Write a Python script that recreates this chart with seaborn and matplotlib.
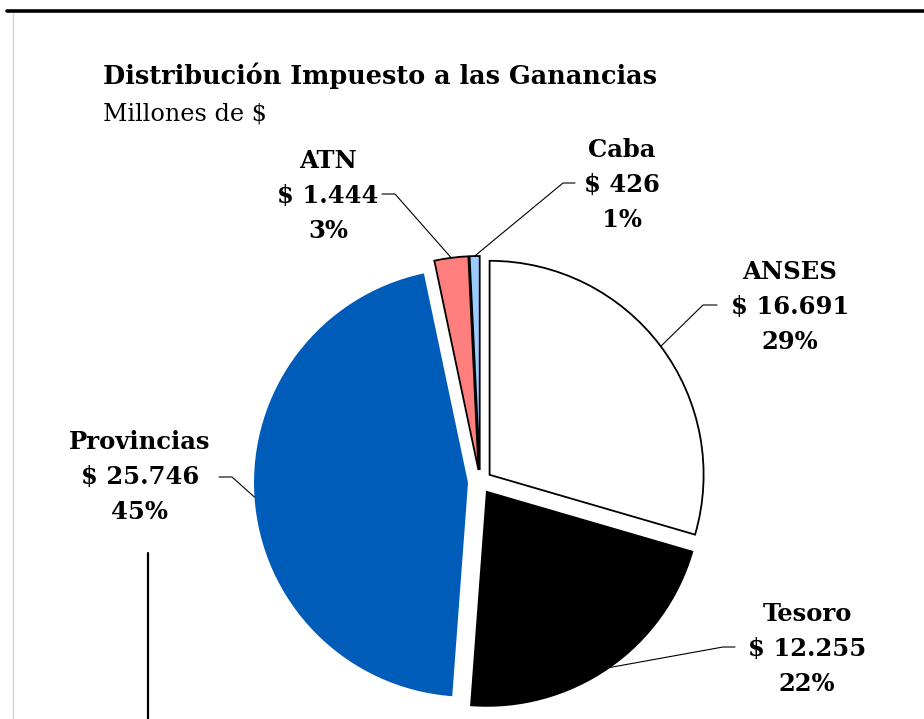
import numpy as np
import matplotlib
matplotlib.use("Agg")
import matplotlib.pyplot as plt
import seaborn as sns

# Datos (millones de $)
categorias = ["ANSES", "Tesoro", "Provincias", "ATN", "Caba"]
montos = [16691, 12255, 25746, 1444, 426]
porcentajes = [29, 22, 45, 3, 1]

colores = ["#FFFFFF", "#000000", "#005CB9", "#FF7F7F", "#99CCFF"]
bordes = ["black", "black", "none", "black", "black"]

sns.set_theme(style="white")
plt.rcParams['font.family'] = ['DejaVu Serif']
plt.rcParams['text.color'] = 'black'

W, H = 924, 719
fig = plt.figure(figsize=(W / 100, H / 100), dpi=100)
ax = fig.add_axes([0, 0, 1, 1])


def Y(y):
    # pixel row -> data y (y grows upward)
    return H - y


wedges, _ = ax.pie(montos, colors=colores, startangle=90, counterclock=False,
                   center=(480, Y(482)), radius=214, explode=[12] * len(montos))
for w, ec in zip(wedges, bordes):
    w.set_edgecolor(ec)
    w.set_linewidth(1.3)

ax.set_xlim(0, W)
ax.set_ylim(0, H)
ax.set_aspect('equal')
ax.axis('off')

# label block center, elbow x, end x, line y
posiciones = {
    "ANSES": ((790, 307), 703, 717, 305),
    "Tesoro": ((807, 649), 723, 735, 647),
    "Provincias": ((140, 477), 232, 219, 477),
    "ATN": ((328, 196), 395, 382, 194),
    "Caba": ((622, 185), 563, 575, 183),
}

for w, cat, monto, pct in zip(wedges, categorias, montos, porcentajes):
    (tx, ty), xe, xf, yl = posiciones[cat]
    txt = f"{cat}\n$ {monto:,}".replace(",", ".") + f"\n{pct}%"
    ax.text(tx, Y(ty), txt, ha='center', va='center', multialignment='center',
            fontsize=17.5, fontweight='bold', linespacing=1.6, color='black')
    ang = np.deg2rad((w.theta1 + w.theta2) / 2)
    cx, cy = w.center
    px, py = cx + w.r * np.cos(ang), cy + w.r * np.sin(ang)
    ax.plot([px, xe, xf], [py, Y(yl), Y(yl)], color='black', lw=0.8)

# title
ax.text(103, Y(84), "Distribución Impuesto a las Ganancias", fontsize=18.4,
        fontweight='bold', ha='left', va='baseline', color='black')
ax.text(103, Y(120), "Millones de $", fontsize=17.2, ha='left', va='baseline',
        color='black')

# frame lines
ax.plot([7, W], [Y(10.5), Y(10.5)], color='black', lw=2.6)
ax.plot([13, 13], [Y(13), 0], color='#D0D0D0', lw=1)
ax.plot([148, 148], [Y(553), 0], color='black', lw=1.6)

fig.savefig("out.png", dpi=100)
